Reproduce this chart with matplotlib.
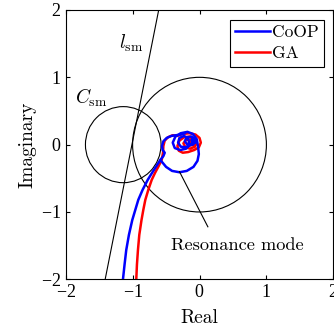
import matplotlib
matplotlib.use("Agg")
import matplotlib.pyplot as plt
from matplotlib.patches import Circle

plt.rcParams["font.family"] = "serif"
plt.rcParams["font.serif"] = ["cmr10", "Liberation Serif", "DejaVu Serif"]
plt.rcParams["mathtext.fontset"] = "cm"
plt.rcParams["axes.unicode_minus"] = False
plt.rcParams["axes.formatter.use_mathtext"] = True

# -------------------------------
# data
# -------------------------------
# CoOP: low-frequency tail, big lower loop, then spiral into the origin
coop_re = [-1.144, -1.12, -1.095, -1.055, -1.005, -0.96, -0.915, -0.85, -0.775, -0.71, -0.65, -0.585,
           -0.50, -0.41, -0.30, -0.19, -0.09, -0.03, -0.01, -0.02,
           -0.04, -0.10, -0.18, -0.28, -0.36, -0.40, -0.37, -0.29, -0.20, -0.15,
           -0.17, -0.23, -0.30, -0.32, -0.28, -0.20, -0.12, -0.08, -0.12, -0.19,
           -0.22, -0.18, -0.10, -0.05, -0.07, -0.12, -0.10, -0.06]
coop_im = [-2.00, -1.78, -1.565, -1.34, -1.12, -0.97, -0.82, -0.67, -0.525, -0.42, -0.327, -0.227,
           -0.33, -0.39, -0.41, -0.39, -0.33, -0.24, -0.14, -0.04,
           0.08, 0.16, 0.19, 0.17, 0.12, 0.03, -0.05, -0.08, -0.06, 0.01,
           0.09, 0.13, 0.10, 0.03, -0.03, -0.04, 0.00, 0.07, 0.12, 0.11,
           0.05, 0.00, 0.00, 0.05, 0.09, 0.07, 0.03, 0.04]

# upper-left arc of the CoOP curve
coop_arc_re = [-0.585, -0.54, -0.52, -0.55, -0.56, -0.54, -0.49, -0.42, -0.35, -0.28, -0.22]
coop_arc_im = [-0.227, -0.17, -0.12, -0.08, -0.02, 0.05, 0.10, 0.13, 0.14, 0.15, 0.17]

ga_re = [-0.945, -0.935, -0.92, -0.90, -0.867, -0.84, -0.81, -0.765, -0.715, -0.665, -0.615, -0.565,
         -0.545, -0.54, -0.52, -0.47, -0.40, -0.33,
         -0.25, -0.15, -0.06, 0.00, 0.02, -0.01, -0.08, -0.17, -0.25, -0.31,
         -0.33, -0.30, -0.23, -0.14, -0.07, -0.04, -0.07, -0.14, -0.21, -0.24,
         -0.20, -0.13, -0.08, -0.09, -0.14, -0.16, -0.12, -0.10]
ga_im = [-2.00, -1.78, -1.565, -1.34, -1.12, -0.97, -0.82, -0.67, -0.525, -0.42, -0.327, -0.227,
         -0.12, -0.02, 0.06, 0.11, 0.14, 0.13,
         0.16, 0.17, 0.15, 0.10, 0.03, -0.04, -0.08, -0.11, -0.12, -0.09,
         -0.02, 0.06, 0.11, 0.12, 0.09, 0.03, -0.03, -0.06, -0.04, 0.02,
         0.07, 0.08, 0.05, 0.00, -0.01, 0.03, 0.05, 0.03]

unit_center = (0.0, 0.0)
unit_radius = 1.0
csm_center = (-1.14, 0.0)
csm_radius = 0.565

lsm_re = [-1.41, -0.61]
lsm_im = [-2.0, 2.0]

res_line_re = [-0.30, 0.125]
res_line_im = [-0.40, -1.22]

# -------------------------------
# figure
# -------------------------------
fig = plt.figure(figsize=(3.34, 3.33), dpi=100)
ax = fig.add_axes([65.7 / 334, 53.7 / 333, 267.6 / 334, 269.3 / 333])

ax.add_patch(Circle(unit_center, unit_radius, fill=False, ec="black", lw=0.8))
ax.add_patch(Circle(csm_center, csm_radius, fill=False, ec="black", lw=0.8))
ax.plot(lsm_re, lsm_im, color="black", lw=0.8)

ax.plot(ga_re, ga_im, color="red", lw=1.8, solid_joinstyle="round", label="GA")
ax.plot(coop_arc_re, coop_arc_im, color="blue", lw=1.8, solid_joinstyle="round")
ax.plot(coop_re, coop_im, color="blue", lw=1.8, solid_joinstyle="round", label="CoOP")

ax.plot(res_line_re, res_line_im, color="black", lw=0.8)
ax.text(0.565, -1.49, "Resonance mode", ha="center", va="center", fontsize=13.2)
ax.text(-1.02, 1.51, r"$l_{\rm sm}$", ha="center", va="center", fontsize=14)
ax.text(-1.62, 0.69, r"$C_{\rm sm}$", ha="center", va="center", fontsize=14)

ax.set_xlim(-2, 2)
ax.set_ylim(-2, 2)
ax.set_xticks([-2, -1, 0, 1, 2])
ax.set_yticks([-2, -1, 0, 1, 2])
ax.tick_params(direction="in", top=True, right=True, length=3, labelsize=13)
for lab in ax.get_xticklabels() + ax.get_yticklabels():
    lab.set_family("Liberation Serif")
ax.set_xlabel("Real", fontsize=14, labelpad=6)
ax.set_ylabel("Imaginary", fontsize=14, labelpad=3)

handles, labels = ax.get_legend_handles_labels()
leg = ax.legend(handles[::-1], labels[::-1], loc="upper right", fontsize=12.5,
                fancybox=False, edgecolor="black", framealpha=1,
                handlelength=2.0, handletextpad=0.1, borderpad=0.3,
                labelspacing=0.35, borderaxespad=0.55)
leg.get_frame().set_linewidth(0.8)

fig.savefig("out.png", dpi=100)
